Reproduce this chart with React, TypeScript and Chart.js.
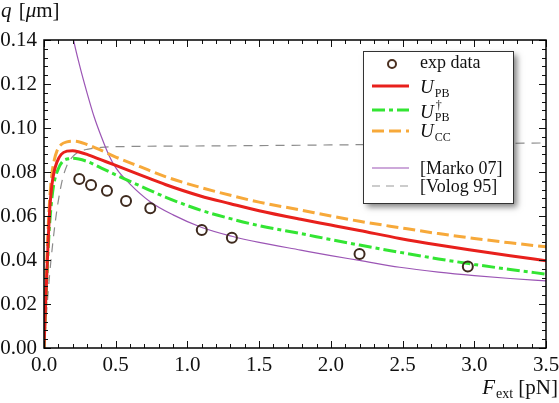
import React, { useEffect, useRef } from 'react';
import { Chart, registerables } from 'chart.js';

Chart.register(...registerables);

// ---- data ----
const expF = [0.246, 0.328, 0.439, 0.572, 0.741, 1.1, 1.31, 2.2, 2.955];
const expQ = [0.0768, 0.0741, 0.0715, 0.0668, 0.0635, 0.0536, 0.0501, 0.0427, 0.037];

const pbF = [0, 0.01, 0.02, 0.03, 0.04, 0.055, 0.07, 0.09, 0.12, 0.16, 0.2, 0.25, 0.3, 0.4, 0.5, 0.67, 0.85, 1.09, 1.3, 1.5, 1.79, 2.0, 2.2, 2.48, 2.75, 3.0, 3.25, 3.5];
const pbQ = [0, 0.018, 0.034, 0.05, 0.063, 0.074, 0.08, 0.0845, 0.088, 0.0895, 0.0897, 0.089, 0.088, 0.0855, 0.083, 0.0787, 0.0742, 0.0691, 0.0656, 0.0624, 0.0585, 0.0559, 0.0534, 0.0498, 0.0468, 0.0443, 0.0419, 0.0397];

const pbdF = [0, 0.01, 0.02, 0.03, 0.04, 0.055, 0.07, 0.1, 0.13, 0.17, 0.2, 0.3, 0.4, 0.5, 0.67, 0.85, 1.09, 1.3, 1.5, 1.79, 2.0, 2.2, 2.48, 2.75, 3.0, 3.25, 3.5];
const pbdQ = [0, 0.017, 0.032, 0.046, 0.057, 0.068, 0.075, 0.0815, 0.0848, 0.086, 0.0862, 0.0848, 0.0818, 0.0787, 0.0737, 0.0685, 0.0627, 0.0588, 0.0556, 0.052, 0.0493, 0.0468, 0.0435, 0.0405, 0.038, 0.0357, 0.0336];

const ccF = [0, 0.01, 0.02, 0.03, 0.04, 0.055, 0.07, 0.09, 0.12, 0.16, 0.21, 0.3, 0.4, 0.5, 0.67, 0.85, 1.09, 1.3, 1.5, 1.79, 2.0, 2.2, 2.48, 2.75, 3.0, 3.25, 3.5];
const ccQ = [0, 0.022, 0.04, 0.056, 0.068, 0.079, 0.085, 0.0895, 0.0925, 0.0937, 0.094, 0.0925, 0.0898, 0.0868, 0.0824, 0.0778, 0.073, 0.0694, 0.0663, 0.0627, 0.06, 0.0576, 0.0547, 0.052, 0.0498, 0.0478, 0.046];

const markoF = [0.175, 0.2, 0.25, 0.3, 0.35, 0.4, 0.45, 0.5, 0.6, 0.74, 0.9, 1.1, 1.31, 1.5, 1.79, 2.0, 2.2, 2.48, 2.75, 3.0, 3.25, 3.5];
const markoQ = [0.152, 0.142, 0.128, 0.116, 0.105, 0.096, 0.088, 0.082, 0.0745, 0.0665, 0.0605, 0.0548, 0.0508, 0.048, 0.0445, 0.042, 0.0398, 0.0367, 0.0345, 0.0329, 0.0316, 0.0305];

const volF = [0, 0.02, 0.04, 0.06, 0.08, 0.1, 0.13, 0.16, 0.2, 0.25, 0.3, 0.4, 0.6, 1.0, 1.5, 2.0, 2.5, 3.0, 3.5];
const volQ = [0, 0.018, 0.034, 0.047, 0.058, 0.067, 0.077, 0.083, 0.087, 0.0893, 0.0903, 0.0912, 0.0916, 0.0918, 0.092, 0.0923, 0.0926, 0.0929, 0.0932];

const xTickValues = [0, 0.5, 1.0, 1.5, 2.0, 2.5, 3.0, 3.5];
const yTickValues = [0, 0.02, 0.04, 0.06, 0.08, 0.1, 0.12, 0.14];
const xMinorStep = 0.1;
const yMinorStep = 0.004;

const SERIF = '"Liberation Serif", "DejaVu Serif", serif';

const toPts = (xs: number[], ys: number[]) => xs.map((x, i) => ({ x, y: ys[i] }));

const decorPlugin = {
  id: 'decor',
  afterDraw(chart: any) {
    const ctx = chart.ctx as CanvasRenderingContext2D;
    const { left, right, top, bottom } = chart.chartArea;
    const xs = chart.scales.x;
    const ys = chart.scales.y;
    ctx.save();

    // ticks (inward, all four sides)
    ctx.strokeStyle = '#111';
    ctx.lineWidth = 1;
    const xMin = xs.min, xMax = xs.max;
    const nx = Math.round((xMax - xMin) / xMinorStep);
    for (let i = 0; i <= nx; i++) {
      const v = xMin + i * xMinorStep;
      const px = Math.round(xs.getPixelForValue(v)) + 0.5;
      const len = i % 5 === 0 ? 7 : 4;
      ctx.beginPath();
      ctx.moveTo(px, bottom); ctx.lineTo(px, bottom - len);
      ctx.moveTo(px, top); ctx.lineTo(px, top + len);
      ctx.stroke();
    }
    const yMin = ys.min, yMax = ys.max;
    const ny = Math.round((yMax - yMin) / yMinorStep);
    for (let i = 0; i <= ny; i++) {
      const v = yMin + i * yMinorStep;
      const py = Math.round(ys.getPixelForValue(v)) + 0.5;
      const len = i % 5 === 0 ? 7 : 4;
      ctx.beginPath();
      ctx.moveTo(left, py); ctx.lineTo(left + len, py);
      ctx.moveTo(right, py); ctx.lineTo(right - len, py);
      ctx.stroke();
    }

    // frame
    ctx.strokeStyle = '#000';
    ctx.lineWidth = 1.5;
    ctx.strokeRect(left, top, right - left, bottom - top);

    // axis titles
    ctx.fillStyle = '#111';
    ctx.textBaseline = 'alphabetic';
    ctx.textAlign = 'left';
    ctx.font = `italic 21px ${SERIF}`;
    ctx.fillText('q', 1, 17);
    let tx = 1 + ctx.measureText('q ').width + 2;
    ctx.font = `21px ${SERIF}`;
    ctx.fillText('[', tx, 17); tx += ctx.measureText('[').width;
    ctx.font = `italic 21px ${SERIF}`;
    ctx.fillText('μ', tx, 17); tx += ctx.measureText('μ').width;
    ctx.font = `21px ${SERIF}`;
    ctx.fillText('m]', tx, 17);

    // x title: F_ext [pN], right aligned
    ctx.font = `italic 21px ${SERIF}`;
    const wF = ctx.measureText('F').width;
    ctx.font = `14px ${SERIF}`;
    const wExt = ctx.measureText('ext').width;
    ctx.font = `21px ${SERIF}`;
    const wUnit = ctx.measureText(' [pN]').width;
    let fx = 558 - (wF + 1 + wExt + wUnit);
    const fy = 394;
    ctx.font = `italic 21px ${SERIF}`;
    ctx.fillText('F', fx, fy); fx += wF + 1;
    ctx.font = `14px ${SERIF}`;
    ctx.fillText('ext', fx, fy + 4); fx += wExt;
    ctx.font = `21px ${SERIF}`;
    ctx.fillText(' [pN]', fx, fy);

    // legend box
    const lx = right - 183, ly = top + 11, lw = 150, lh = 152;
    ctx.save();
    ctx.shadowColor = 'rgba(0,0,0,0.5)';
    ctx.shadowBlur = 6;
    ctx.shadowOffsetX = 4;
    ctx.shadowOffsetY = 4;
    ctx.fillStyle = '#fff';
    ctx.fillRect(lx, ly, lw, lh);
    ctx.restore();
    ctx.strokeStyle = '#333';
    ctx.lineWidth = 1;
    ctx.strokeRect(lx + 0.5, ly + 0.5, lw, lh);

    const symL = lx + 9, symR = lx + 46, symC = lx + 29;
    const textX = lx + 57;
    const line = (y: number, color: string, w: number, dash: number[]) => {
      ctx.save();
      ctx.strokeStyle = color;
      ctx.lineWidth = w;
      ctx.setLineDash(dash);
      ctx.beginPath();
      ctx.moveTo(symL, y); ctx.lineTo(symR, y);
      ctx.stroke();
      ctx.restore();
    };
    ctx.fillStyle = '#111';
    // exp data
    ctx.save();
    ctx.strokeStyle = '#4b3020';
    ctx.lineWidth = 2;
    ctx.beginPath();
    ctx.arc(symC, ly + 13, 4, 0, Math.PI * 2);
    ctx.stroke();
    ctx.restore();
    ctx.font = `18px ${SERIF}`;
    ctx.fillText('exp data', textX, ly + 17);

    const mathLabel = (base: number, sub: string, sup?: string) => {
      ctx.font = `italic 19px ${SERIF}`;
      ctx.fillText('U', textX, base);
      const w = ctx.measureText('U').width;
      ctx.font = `12px ${SERIF}`;
      ctx.fillText(sub, textX + w + 1, base + (sup ? 3 : 4));
      if (sup) ctx.fillText(sup, textX + w + 2, base - 9);
    };
    line(ly + 35, '#e8201c', 3, []);
    mathLabel(ly + 42, 'PB');
    line(ly + 59, '#33e533', 3, [13, 4, 4, 4]);
    mathLabel(ly + 67, 'PB', '†');
    line(ly + 80, '#f7a93a', 3, [12, 5]);
    mathLabel(ly + 86, 'CC');
    line(ly + 117, '#9b55b5', 1.2, []);
    ctx.font = `18px ${SERIF}`;
    ctx.fillText('[Marko 07]', textX, ly + 123);
    line(ly + 135, '#999', 1.2, [8, 6]);
    ctx.fillText('[Volog 95]', textX, ly + 141);

    ctx.restore();
  },
};

export default function App() {
  const ref = useRef<HTMLCanvasElement | null>(null);
  useEffect(() => {
    if (!ref.current) return;
    const lineDs = (label: string, xs: number[], ys: number[], color: string, width: number, dash: number[]) => ({
      type: 'line',
      label,
      data: toPts(xs, ys),
      showLine: true,
      borderColor: color,
      backgroundColor: color,
      borderWidth: width,
      borderDash: dash,
      pointRadius: 0,
      fill: false,
      cubicInterpolationMode: 'monotone',
    });
    const chart = new Chart(ref.current, {
      type: 'scatter',
      data: {
        datasets: [
          {
            label: 'exp data',
            data: toPts(expF, expQ),
            pointRadius: 5,
            pointBorderWidth: 2,
            pointBorderColor: '#3e2a1e',
            pointBackgroundColor: 'rgba(0,0,0,0)',
            borderColor: '#3e2a1e',
            backgroundColor: 'rgba(0,0,0,0)',
            showLine: false,
          } as any,
          lineDs('U_PB', pbF, pbQ, '#e8201c', 3, []),
          lineDs('U†_PB', pbdF, pbdQ, '#33e533', 3, [13, 4, 4, 4]),
          lineDs('U_CC', ccF, ccQ, '#f7a93a', 3, [12, 5]),
          lineDs('[Marko 07]', markoF, markoQ, '#9b55b5', 1.2, []),
          lineDs('[Volog 95]', volF, volQ, '#8c8c8c', 1.2, [9, 7]),
        ] as any,
      },
      options: {
        animation: false,
        responsive: false,
        maintainAspectRatio: false,
        devicePixelRatio: 1,
        layout: { padding: { left: 0, top: 40, right: 13, bottom: 0 } },
        plugins: { legend: { display: false }, tooltip: { enabled: false } },
        scales: {
          x: {
            type: 'linear',
            min: 0,
            max: 3.5,
            grid: { display: false, drawTicks: false },
            border: { display: false },
            afterBuildTicks: (s: any) => { s.ticks = xTickValues.map((v) => ({ value: v })); },
            afterFit: (s: any) => { s.height = 55; s.paddingLeft = 0; s.paddingRight = 0; },
            ticks: {
              autoSkip: false,
              maxRotation: 0,
              padding: 5,
              color: '#111',
              font: { family: SERIF, size: 21 },
              callback: (v: any) => Number(v).toFixed(1),
            },
          },
          y: {
            type: 'linear',
            min: 0,
            max: 0.14,
            grid: { display: false, drawTicks: false },
            border: { display: false },
            afterBuildTicks: (s: any) => { s.ticks = yTickValues.map((v) => ({ value: v })); },
            afterFit: (s: any) => { s.width = 44; s.paddingTop = 0; s.paddingBottom = 0; },
            ticks: {
              autoSkip: false,
              padding: 7,
              color: '#111',
              font: { family: SERIF, size: 21 },
              callback: (v: any) => Number(v).toFixed(2),
            },
          },
        },
      } as any,
      plugins: [decorPlugin],
    });
    return () => chart.destroy();
  }, []);
  return (
    <div style={{ position: 'fixed', left: 0, top: 0, width: 559, height: 403, background: '#fff' }}>
      <canvas ref={ref} width={559} height={403} style={{ display: 'block' }} />
    </div>
  );
}
